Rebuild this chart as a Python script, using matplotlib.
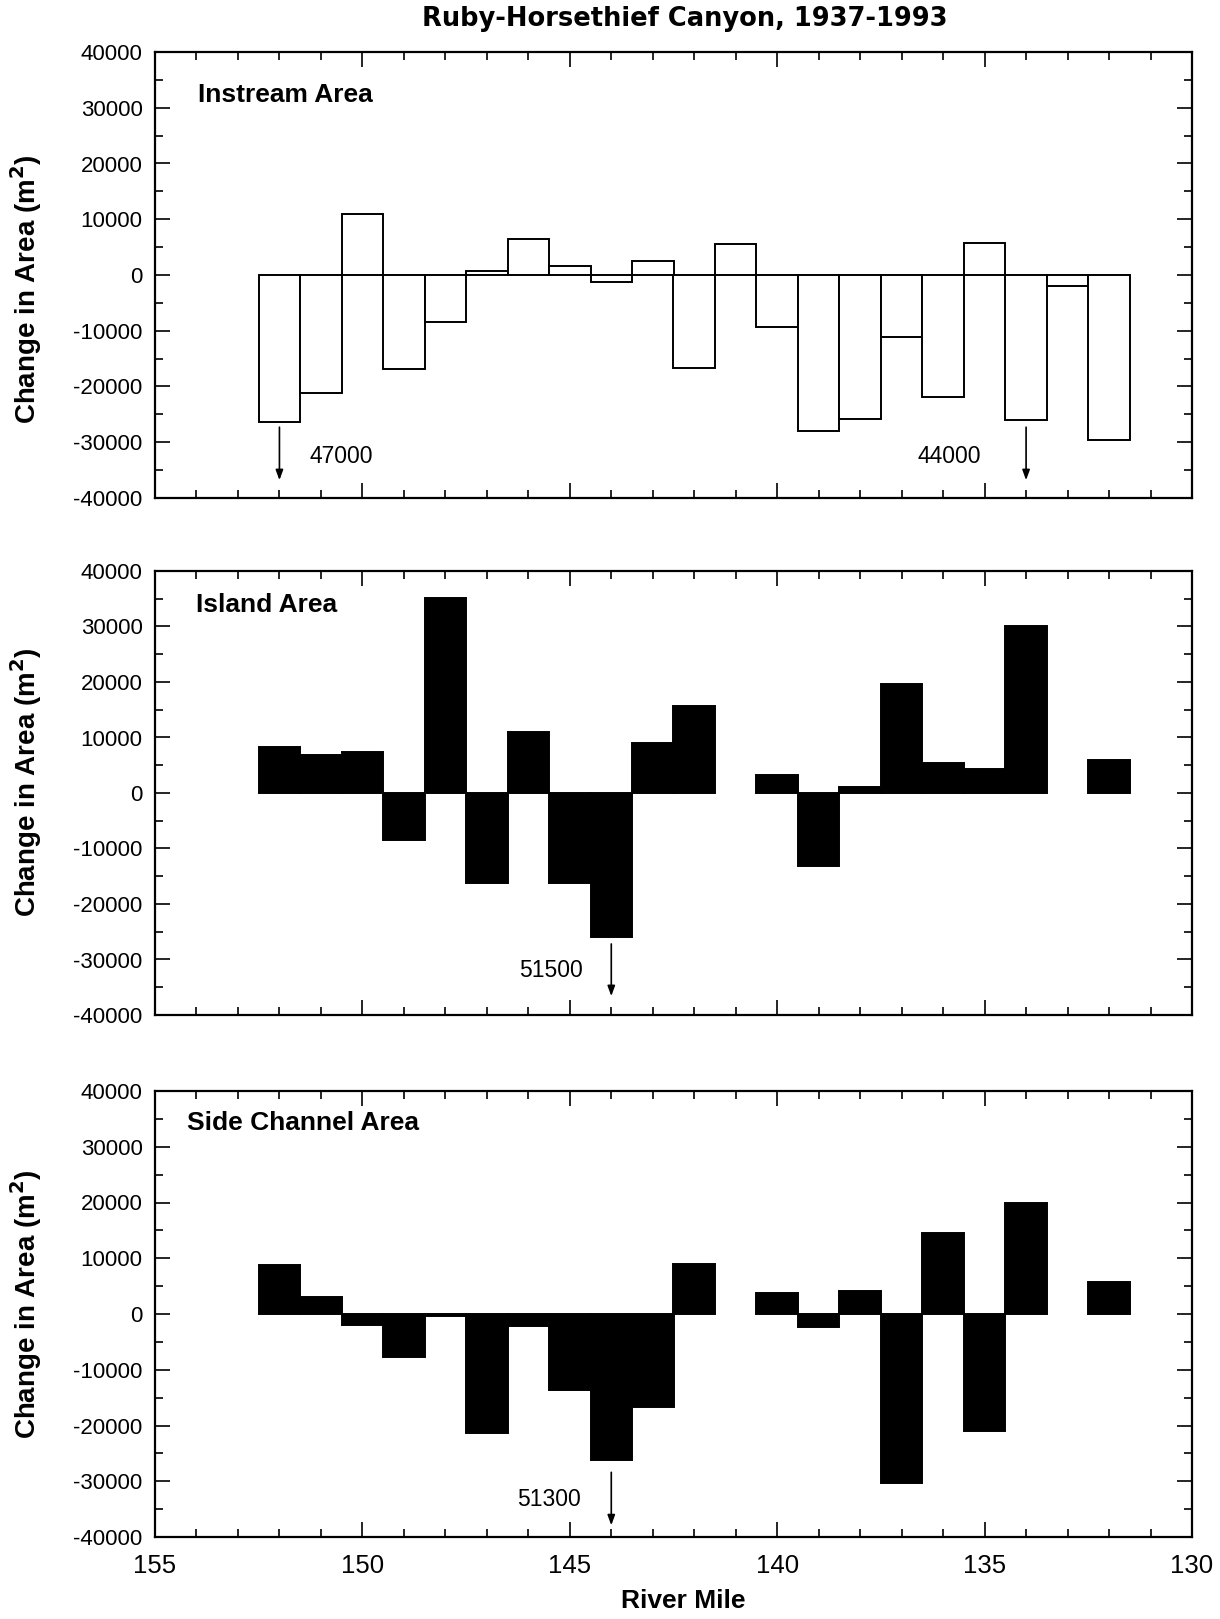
import numpy as np
import matplotlib
matplotlib.use("Agg")
import matplotlib.pyplot as plt
from matplotlib.ticker import MultipleLocator

plt.rcParams['font.family'] = ['Liberation Sans', 'DejaVu Sans']
plt.rcParams['axes.unicode_minus'] = False

# river miles (bar centres), upstream to downstream
miles = [152, 151, 150, 149, 148, 147, 146, 145, 144, 143, 142,
         141, 140, 139, 138, 137, 136, 135, 134, 133, 132]

# change in area (m2); nan = no bar
instream = [-26300, -21200, 11000, -16900, -8400, 800, 6500, 1600, -1300, 2600, -16700,
            5600, -9300, -27900, -25900, -11100, -21900, 5800, -26000, -1900, -29600]
island = [8300, 6900, 7300, -8400, 35100, -16200, 11000, -16200, -26000, 9000, 15700,
          np.nan, 3300, -13100, 1000, 19600, 5400, 4400, 30100, np.nan, 5900]
side = [8700, 3100, -1900, -7700, -400, -21400, -2100, -13700, -26200, -16600, 9000,
        np.nan, 3700, -2400, 4200, -30400, 14600, -20900, 19900, np.nan, 5800]

panel_names = ['Instream Area', 'Island Area', 'Side Channel Area']
panel_data = [instream, island, side]
panel_fill = ['white', 'black', 'black']

# off-scale values: (panel, mile, label, label mile, label y, arrow from, arrow to)
offscale = [
    (0, 152, '47000', 150.5, -32600, -27300, -36800),
    (0, 134, '44000', 135.85, -32600, -27300, -36800),
    (1, 144, '51500', 145.45, -32000, -27200, -36600),
    (2, 144, '51300', 145.5, -33300, -28400, -37900),
]

W, H = 1220, 1619
fig = plt.figure(figsize=(W / 100, H / 100), dpi=100)

left, right = 155, 1192
tops = [52, 571, 1091]
bottoms = [498, 1015, 1537]
name_pos = [(0.041, 0.904), (0.040, 0.923), (0.031, 0.928)]
ylab_pos = [0.469, 0.525, 0.522]

axes = []
for i in range(3):
    ax = fig.add_axes([left / W, 1 - bottoms[i] / H, (right - left) / W, (bottoms[i] - tops[i]) / H])
    vals = np.array(panel_data[i], dtype=float)
    ok = ~np.isnan(vals)
    ax.bar(np.array(miles)[ok], vals[ok], width=1.0, color=panel_fill[i],
           edgecolor='black', linewidth=1.4, zorder=2)
    ax.set_xlim(155, 130)
    ax.set_ylim(-40000, 40000)
    ax.xaxis.set_major_locator(MultipleLocator(5))
    ax.xaxis.set_minor_locator(MultipleLocator(1))
    ax.yaxis.set_major_locator(MultipleLocator(10000))
    ax.yaxis.set_minor_locator(MultipleLocator(5000))
    ax.tick_params(which='both', direction='in', top=True, right=True, width=1.2)
    ax.tick_params(which='major', length=11)
    ax.tick_params(which='minor', length=5.5)
    ax.tick_params(axis='y', labelsize=16, pad=9)
    ax.tick_params(axis='x', labelsize=18.5, pad=12)
    for s in ax.spines.values():
        s.set_linewidth(1.6)
    if i < 2:
        ax.tick_params(axis='x', labelbottom=False)
    ax.text(name_pos[i][0], name_pos[i][1], panel_names[i], transform=ax.transAxes,
            fontsize=19, fontweight='bold', ha='left', va='center')
    ax.set_ylabel('Change in Area (m$^\\mathbf{2}$)', fontsize=20, fontweight='bold')
    ax.yaxis.set_label_coords(-0.107, ylab_pos[i])
    axes.append(ax)

for p, m, lab, tx, ty, y0, y1 in offscale:
    ax = axes[p]
    ax.annotate('', xy=(m, y1), xytext=(m, y0),
                arrowprops=dict(arrowstyle='-|>,head_length=0.6,head_width=0.22',
                                color='black', lw=1.2, shrinkA=0, shrinkB=0))
    ax.text(tx, ty, lab, fontsize=16.5, ha='center', va='center')

axes[2].set_xlabel('River Mile', fontsize=19, fontweight='bold')
axes[2].xaxis.set_label_coords(0.509, -0.117)

fig.text(0.561, 0.9885, 'Ruby-Horsethief Canyon, 1937-1993', fontsize=18.5,
         fontweight='bold', family='DejaVu Sans', ha='center', va='center')

fig.savefig('out.png', dpi=100)
